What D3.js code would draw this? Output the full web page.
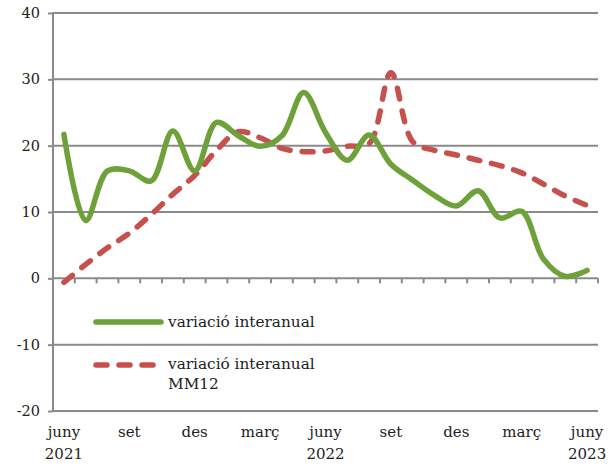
<!DOCTYPE html>
<html>
<head>
<meta charset="utf-8">
<script src="https://cdn.jsdelivr.net/npm/d3@7"></script>
<style>
  html, body { margin: 0; padding: 0; background: #fff; }
  svg { display: block; }
  text { font-family: "DejaVu Serif", serif; fill: #222; }
</style>
</head>
<body>
<svg id="chart" width="616" height="466"></svg>
<script>
const months = ["juny","jul","ag","set","oct","nov","des","gen","febr","març","abr","maig",
                "juny","jul","ag","set","oct","nov","des","gen","febr","març","abr","maig","juny"];
const shownMonthLabels = ["juny","set","des","març","juny","set","des","març","juny"];
const yearLabels = [{i: 0, label: "2021"}, {i: 12, label: "2022"}, {i: 24, label: "2023"}];
const interanual = [21.7, 8.7, 16.2, 16.2, 14.7, 22.2, 16.2, 23.5, 21.5, 19.9, 21.5, 28.0,
                    22.0, 17.8, 21.6, 17.2, 14.8, 12.5, 10.9, 13.2, 9.1, 10.1, 2.9, 0.3, 1.2];
const mm12 = [-0.6, 2.1, 4.6, 6.8, 9.6, 12.7, 15.5, 19.3, 22.1, 21.2, 19.6, 19.1,
              19.2, 19.9, 20.3, 31.0, 20.6, 19.3, 18.6, 17.8, 17.0, 15.9, 14.2, 12.4, 11.0];
const yTicks = [-20, -10, 0, 10, 20, 30, 40];
const seriesNames = ["variació interanual", "variació interanual MM12"];

(function () {
const svg = d3.select("#chart");
const pLeft = 53, pRight = 598, pTop = 13, pBottom = 411;
const gray = "#8a8a8a";
const green = "#6ea13a";
const red = "#c6504e";

const x = d3.scaleBand().domain(d3.range(months.length)).range([pLeft, pRight]).padding(0);
const cx = i => x(i) + x.bandwidth() / 2;
const y = d3.scaleLinear().domain([-20, 40]).range([pBottom, pTop]);

// gridlines + y axis
const yAxis = d3.axisLeft(y).tickValues(yTicks).tickSize(5).tickPadding(8).tickFormat(d => String(d));
const gy = svg.append("g").attr("transform", `translate(${pLeft},0)`).call(yAxis);
gy.select(".domain").remove();
gy.selectAll(".tick line").attr("stroke", gray).attr("stroke-width", 2);
gy.selectAll(".tick text").attr("font-size", 14.5).attr("font-family", "DejaVu Serif").attr("fill", "#222");
svg.append("g").selectAll("line").data(yTicks).join("line")
  .attr("x1", pLeft).attr("x2", pRight)
  .attr("y1", d => y(d)).attr("y2", d => y(d))
  .attr("stroke", gray).attr("stroke-width", 2);
svg.append("line").attr("x1", pLeft).attr("x2", pLeft).attr("y1", pTop - 1).attr("y2", pBottom + 1)
  .attr("stroke", gray).attr("stroke-width", 2);

// x tick marks on zero line at category boundaries
const bounds = d3.range(months.length + 1).map(i => i < months.length ? x(i) : x(months.length - 1) + x.bandwidth());
svg.append("g").selectAll("line").data(bounds).join("line")
  .attr("x1", d => d).attr("x2", d => d)
  .attr("y1", y(0)).attr("y2", y(0) + 5)
  .attr("stroke", gray).attr("stroke-width", 2);

// x labels
const labelIdx = d3.range(0, months.length, 3);
svg.append("g").selectAll("text").data(labelIdx).join("text")
  .attr("x", i => cx(i)).attr("y", 437)
  .attr("text-anchor", "middle").attr("font-size", 15)
  .text((i, k) => shownMonthLabels[k]);
svg.append("g").selectAll("text").data(yearLabels).join("text")
  .attr("x", d => cx(d.i)).attr("y", 459)
  .attr("text-anchor", "middle").attr("font-size", 15)
  .text(d => d.label);

// lines
const line = d3.line().x((d, i) => cx(i)).y(d => y(d)).curve(d3.curveCatmullRom.alpha(0.5));
svg.append("path").attr("d", line(mm12)).attr("fill", "none")
  .attr("stroke", red).attr("stroke-width", 5.5)
  .attr("stroke-dasharray", "11,12").attr("stroke-linecap", "round");
svg.append("path").attr("d", line(interanual)).attr("fill", "none")
  .attr("stroke", green).attr("stroke-width", 5.5).attr("stroke-linecap", "round").attr("stroke-linejoin", "round");

// legend
const lg = svg.append("g");
lg.append("line").attr("x1", 96).attr("x2", 161).attr("y1", 322).attr("y2", 322)
  .attr("stroke", green).attr("stroke-width", 5.5).attr("stroke-linecap", "round");
lg.append("text").attr("x", 168).attr("y", 327).attr("font-size", 15.3).text(seriesNames[0]);
lg.append("line").attr("x1", 96).attr("x2", 161).attr("y1", 365).attr("y2", 365)
  .attr("stroke", red).attr("stroke-width", 5.5)
  .attr("stroke-dasharray", "11,12").attr("stroke-linecap", "round");
const t2 = lg.append("text").attr("x", 168).attr("y", 369).attr("font-size", 15.3);
t2.append("tspan").attr("x", 168).text("variació interanual");
t2.append("tspan").attr("x", 168).attr("dy", 20).text("MM12");
})();
</script>
</body>
</html>
